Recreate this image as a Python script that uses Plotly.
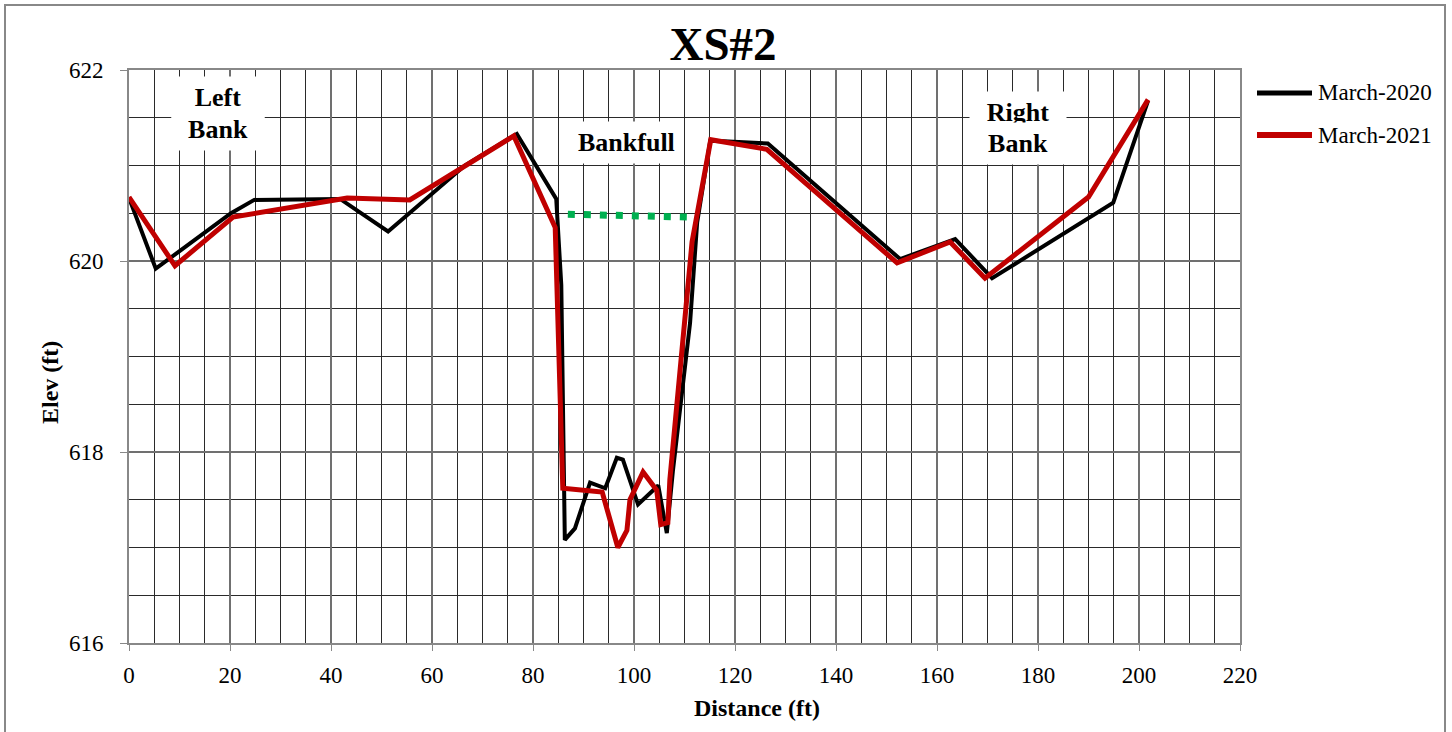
import plotly.graph_objects as go

# Cross-section survey XS#2: station (ft) and elevation (ft)
dist_2020 = [0, 5.3, 20.2, 24.8, 41.8, 51.3, 66.5, 76.8, 84.6, 85.6, 86.3, 88.3, 91.3,
             94.3, 96.6, 97.8, 100.8, 104.8, 106.5, 107.7, 111.1, 112.5, 115.1, 126.5,
             152.7, 163.6, 170.9, 194.9, 201.8]
elev_2020 = [620.66, 619.92, 620.5, 620.64, 620.65, 620.31, 621.0, 621.33, 620.65, 619.75,
             617.08, 617.2, 617.68, 617.62, 617.94, 617.92, 617.45, 617.65, 617.15, 617.8,
             619.35, 620.4, 621.26, 621.23, 620.02, 620.23, 619.82, 620.61, 621.68]

dist_2021 = [0, 9.1, 20.6, 43.2, 55.6, 66.5, 76.2, 84.4, 85.9, 93.7, 96.8, 98.6, 99.2,
             101.8, 104.5, 105.3, 106.7, 107.1, 111.5, 115.2, 126.3, 152.1, 162.6, 169.5,
             190.0, 201.8]
elev_2021 = [620.67, 619.95, 620.46, 620.66, 620.64, 621.0, 621.31, 620.35, 617.62, 617.58,
             617.0, 617.18, 617.5, 617.79, 617.6, 617.24, 617.26, 617.71, 620.2, 621.27,
             621.17, 619.98, 620.2, 619.82, 620.67, 621.69]

bankfull_dist = [86.9, 110.7]
bankfull_elev = [620.49, 620.46]

series_names = ["March-2020", "March-2021"]
series_colors = ["#000000", "#C00000"]
series_widths = [4, 5]

FONT = "Liberation Serif"

# Plot-area geometry in pixels (figure is 1452 x 732)
W, H = 1452, 732
L, R, T, B = 129, 212, 70, 89
PW, PH = W - L - R, H - T - B


def px_x(p):
    return (p - L) / PW


def px_y(p):
    return (H - B - p) / PH


fig = go.Figure()
fig.add_trace(go.Scatter(x=bankfull_dist, y=bankfull_elev, mode="lines",
                         line=dict(color="#00B050", width=7, dash="7px,9px"),
                         showlegend=False, hoverinfo="skip"))
for xs, ys, name, col, w in zip([dist_2020, dist_2021], [elev_2020, elev_2021],
                                series_names, series_colors, series_widths):
    fig.add_trace(go.Scatter(x=xs, y=ys, mode="lines", name=name,
                             line=dict(color=col, width=w), showlegend=False))

major_grid = "#707070"
minor_grid = "#2a2a2a"
fig.update_layout(
    width=W, height=H,
    margin=dict(l=L, r=R, t=T, b=B),
    paper_bgcolor="white", plot_bgcolor="white",
    font=dict(family=FONT, color="black", size=23),
    title=dict(text="<b>XS#2</b>", x=px_x(723), xref="paper", xanchor="center",
               y=1 - 44 / H, yref="container", yanchor="middle",
               font=dict(size=47, family=FONT)),
    showlegend=False,
    xaxis=dict(range=[0, 220], dtick=20, tick0=0, showgrid=True, gridcolor=major_grid,
               gridwidth=1.5, zeroline=False, showline=True, linecolor="#888888",
               linewidth=2, mirror=True, ticks="outside", ticklen=6, tickcolor="#888888",
               minor=dict(dtick=5, showgrid=True, gridcolor=minor_grid, gridwidth=1),
               ticklabelstandoff=4,
               tickfont=dict(size=23, family=FONT, color="black")),
    yaxis=dict(range=[616, 622], dtick=2, tick0=616, showgrid=True, gridcolor=major_grid,
               gridwidth=1.5, zeroline=False, showline=True, linecolor="#888888",
               linewidth=2, mirror=True, ticks="outside", ticklen=7, tickcolor="#888888",
               minor=dict(dtick=0.5, showgrid=True, gridcolor=minor_grid, gridwidth=1),
               ticklabelstandoff=12,
               tickfont=dict(size=23, family=FONT, color="black")),
)

# Axis titles
fig.add_annotation(xref="paper", yref="paper", x=px_x(757), y=px_y(708),
                   text="<b>Distance (ft)</b>", showarrow=False,
                   font=dict(size=24, family=FONT), xanchor="center", yanchor="middle")
fig.add_annotation(xref="paper", yref="paper", x=px_x(50), y=px_y(383),
                   text="<b>Elev (ft)</b>", showarrow=False, textangle=-90,
                   font=dict(size=24, family=FONT), xanchor="center", yanchor="middle")

# Section labels, one annotation per line on a shared white box
labels = [("<b>Left</b>", 17.6, 621.71, 80), ("<b>Bank</b>", 17.6, 621.38, 80),
          ("<b>Bankfull</b>", 98.5, 621.24, None),
          ("<b>Right</b>", 176.0, 621.55, 84), ("<b>Bank</b>", 176.0, 621.23, 84)]
for text, xv, yv, wd in labels:
    fig.add_annotation(x=xv, y=yv, text=text, showarrow=False,
                       font=dict(size=26, family=FONT, color="black"),
                       bgcolor="white", borderpad=6, width=wd)

# Legend
for i, (name, col, w) in enumerate(zip(series_names, series_colors, series_widths)):
    yy = px_y(93 + 42 * i)
    fig.add_shape(type="line", xref="paper", yref="paper",
                  x0=px_x(1257), x1=px_x(1312), y0=yy, y1=yy,
                  line=dict(color=col, width=w + 1))
    fig.add_annotation(xref="paper", yref="paper", x=px_x(1316), y=yy, text=name,
                       showarrow=False, xanchor="left", yanchor="middle",
                       font=dict(size=23, family=FONT, color="black"))

# Outer frame around the chart
fig.add_shape(type="rect", xref="paper", yref="paper",
              x0=px_x(5), x1=px_x(1445), y0=px_y(760), y1=px_y(5),
              line=dict(color="#888888", width=2), fillcolor="rgba(0,0,0,0)",
              layer="below")

fig.write_html("out.html")
